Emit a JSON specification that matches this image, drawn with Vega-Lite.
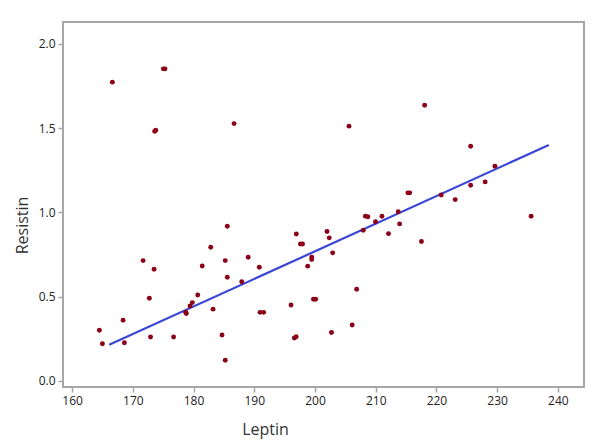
{
  "$schema": "https://vega.github.io/schema/vega-lite/v6.json",
  "autosize": "none",
  "width": 521,
  "height": 365,
  "padding": {"left": 63, "top": 22, "right": 11, "bottom": 58},
  "background": "white",
  "config": {
    "view": {"stroke": "#a6a6a6", "strokeWidth": 2},
    "font": "Open Sans"
  },
  "datasets": {
    "points": [
      {"Leptin": 164.49, "Resistin": 0.301},
      {"Leptin": 164.99, "Resistin": 0.221},
      {"Leptin": 166.63, "Resistin": 1.773},
      {"Leptin": 168.40, "Resistin": 0.360},
      {"Leptin": 168.61, "Resistin": 0.227},
      {"Leptin": 171.69, "Resistin": 0.714},
      {"Leptin": 172.72, "Resistin": 0.491},
      {"Leptin": 172.92, "Resistin": 0.261},
      {"Leptin": 173.50, "Resistin": 0.663},
      {"Leptin": 173.78, "Resistin": 1.488},
      {"Leptin": 173.60, "Resistin": 1.482},
      {"Leptin": 175.03, "Resistin": 1.852},
      {"Leptin": 175.30, "Resistin": 1.852},
      {"Leptin": 176.71, "Resistin": 0.261},
      {"Leptin": 178.72, "Resistin": 0.408},
      {"Leptin": 178.80, "Resistin": 0.400},
      {"Leptin": 179.42, "Resistin": 0.445},
      {"Leptin": 179.80, "Resistin": 0.465},
      {"Leptin": 180.69, "Resistin": 0.510},
      {"Leptin": 181.43, "Resistin": 0.682},
      {"Leptin": 182.83, "Resistin": 0.793},
      {"Leptin": 183.21, "Resistin": 0.426},
      {"Leptin": 184.69, "Resistin": 0.273},
      {"Leptin": 185.22, "Resistin": 0.714},
      {"Leptin": 185.22, "Resistin": 0.123},
      {"Leptin": 185.56, "Resistin": 0.918},
      {"Leptin": 185.56, "Resistin": 0.615},
      {"Leptin": 186.67, "Resistin": 1.527},
      {"Leptin": 187.93, "Resistin": 0.589},
      {"Leptin": 189.00, "Resistin": 0.734},
      {"Leptin": 190.83, "Resistin": 0.675},
      {"Leptin": 190.95, "Resistin": 0.407},
      {"Leptin": 191.55, "Resistin": 0.407},
      {"Leptin": 196.05, "Resistin": 0.451},
      {"Leptin": 196.60, "Resistin": 0.255},
      {"Leptin": 196.90, "Resistin": 0.262},
      {"Leptin": 196.92, "Resistin": 0.872},
      {"Leptin": 197.60, "Resistin": 0.813},
      {"Leptin": 197.95, "Resistin": 0.813},
      {"Leptin": 198.80, "Resistin": 0.681},
      {"Leptin": 199.46, "Resistin": 0.720},
      {"Leptin": 199.46, "Resistin": 0.735},
      {"Leptin": 199.75, "Resistin": 0.485},
      {"Leptin": 200.10, "Resistin": 0.485},
      {"Leptin": 201.98, "Resistin": 0.887},
      {"Leptin": 202.35, "Resistin": 0.849},
      {"Leptin": 202.72, "Resistin": 0.287},
      {"Leptin": 202.91, "Resistin": 0.760},
      {"Leptin": 205.60, "Resistin": 1.512},
      {"Leptin": 206.12, "Resistin": 0.332},
      {"Leptin": 206.86, "Resistin": 0.544},
      {"Leptin": 207.95, "Resistin": 0.894},
      {"Leptin": 208.30, "Resistin": 0.978},
      {"Leptin": 208.70, "Resistin": 0.974},
      {"Leptin": 209.96, "Resistin": 0.945},
      {"Leptin": 211.03, "Resistin": 0.977},
      {"Leptin": 212.10, "Resistin": 0.874},
      {"Leptin": 213.71, "Resistin": 1.004},
      {"Leptin": 213.94, "Resistin": 0.932},
      {"Leptin": 215.30, "Resistin": 1.116},
      {"Leptin": 215.60, "Resistin": 1.116},
      {"Leptin": 217.53, "Resistin": 0.827},
      {"Leptin": 218.06, "Resistin": 1.636},
      {"Leptin": 220.79, "Resistin": 1.103},
      {"Leptin": 223.09, "Resistin": 1.076},
      {"Leptin": 225.63, "Resistin": 1.393},
      {"Leptin": 225.63, "Resistin": 1.161},
      {"Leptin": 228.02, "Resistin": 1.181},
      {"Leptin": 229.63, "Resistin": 1.274},
      {"Leptin": 235.59, "Resistin": 0.977}
    ],
    "fit": [
      {"Leptin": 166.1, "Resistin": 0.214},
      {"Leptin": 238.5, "Resistin": 1.40}
    ]
  },
  "encoding": {
    "x": {
      "field": "Leptin",
      "type": "quantitative",
      "scale": {"domain": [158.5, 244.3], "nice": false, "zero": false},
      "axis": {
        "title": "Leptin",
        "values": [160, 170, 180, 190, 200, 210, 220, 230, 240],
        "grid": false,
        "domain": false,
        "tickColor": "#a6a6a6",
        "tickSize": 5,
        "tickWidth": 1.5,
        "labelFontSize": 12,
        "labelColor": "#222222",
        "labelPadding": 3,
        "titleFontSize": 16,
        "titleFontWeight": "normal",
        "titleColor": "#333333",
        "titleX": 202,
        "titleY": 47,
        "titleAlign": "center",
        "titleBaseline": "alphabetic"
      }
    },
    "y": {
      "field": "Resistin",
      "type": "quantitative",
      "scale": {"domain": [-0.036, 2.13], "nice": false, "zero": false},
      "axis": {
        "title": "Resistin",
        "values": [0, 0.5, 1, 1.5, 2],
        "format": ".1f",
        "grid": false,
        "domain": false,
        "tickColor": "#a6a6a6",
        "tickSize": 5,
        "tickWidth": 1.5,
        "labelFontSize": 12,
        "labelColor": "#222222",
        "labelPadding": 3,
        "titleFontSize": 16,
        "titleFontWeight": "normal",
        "titleColor": "#333333",
        "titleX": -36,
        "titleY": 203,
        "titleAlign": "center",
        "titleBaseline": "alphabetic",
        "titleAngle": -90
      }
    }
  },
  "layer": [
    {
      "data": {"name": "fit"},
      "mark": {"type": "line", "color": "#3a46d6", "strokeWidth": 2.2}
    },
    {
      "data": {"name": "points"},
      "mark": {"type": "circle", "color": "#8b0018", "opacity": 1, "size": 24}
    }
  ]
}
